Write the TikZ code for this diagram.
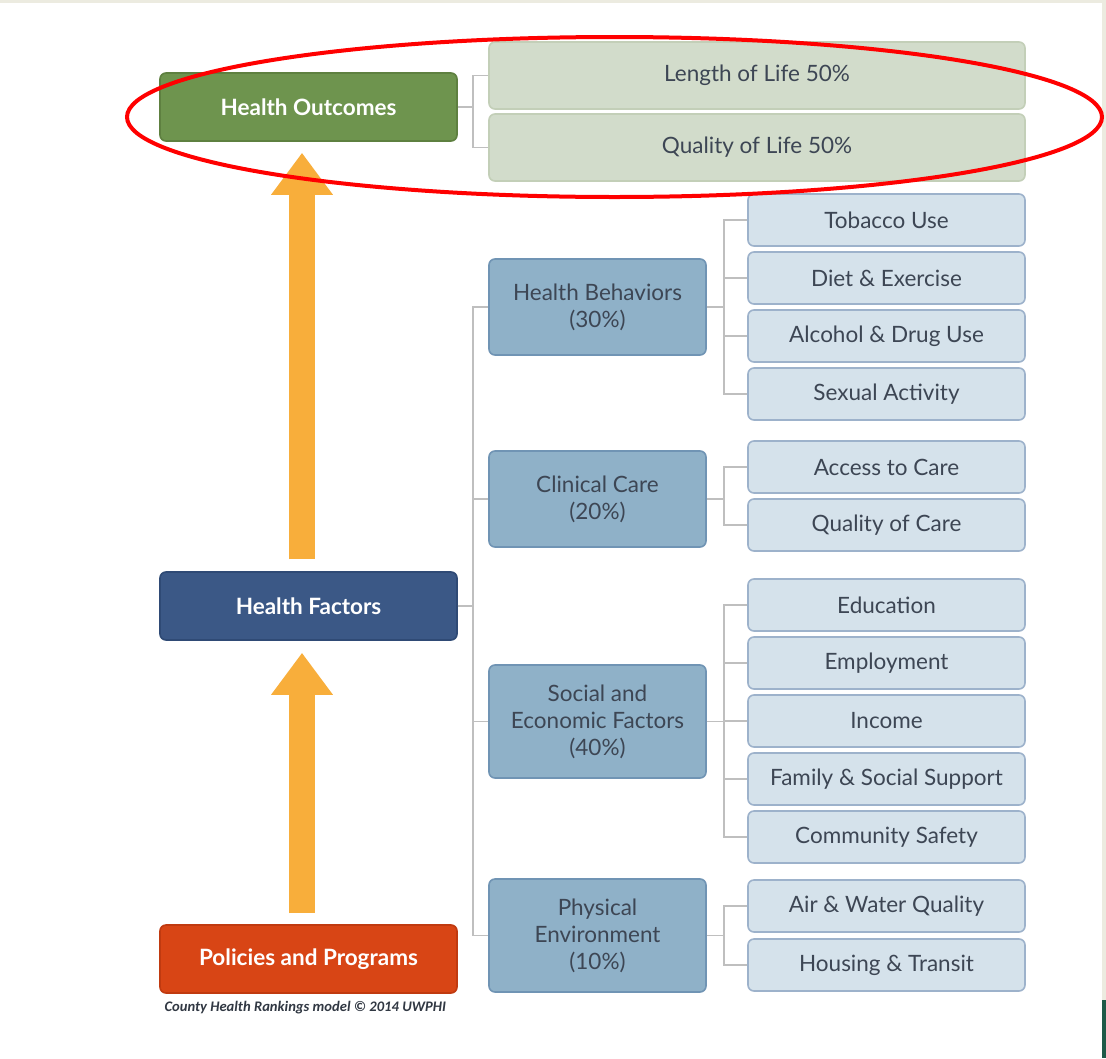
\documentclass[tikz,border=0pt]{standalone}
\usepackage{fontspec}
\setmainfont{Lato}
\newfontfamily\capfont{Carlito}
\usetikzlibrary{arrows.meta}
\definecolor{hogreen}{HTML}{6E944E}
\definecolor{hogreenb}{HTML}{5E8040}
\definecolor{lgreen}{HTML}{D2DCCB}
\definecolor{lgreenb}{HTML}{C3CFB8}
\definecolor{hfblue}{HTML}{3B5886}
\definecolor{hfblueb}{HTML}{2F4A75}
\definecolor{pporange}{HTML}{D84515}
\definecolor{pporangeb}{HTML}{C03A10}
\definecolor{midblue}{HTML}{8FB1C8}
\definecolor{midblueb}{HTML}{7094B4}
\definecolor{lblue}{HTML}{D5E2EB}
\definecolor{lblueb}{HTML}{9DB2CB}
\definecolor{conngray}{HTML}{BFBFBF}
\definecolor{arroworange}{HTML}{F8AE3B}
\definecolor{txtdark}{HTML}{3D4654}
\definecolor{framebeige}{HTML}{ECEBE0}
\definecolor{framegreen}{HTML}{1E5A48}
\begin{document}
\begin{tikzpicture}[x=1pt,y=-1pt,
  basebox/.style={rectangle, rounded corners=6pt, inner sep=0pt, line width=1.6pt, align=center},
  topbox/.style={basebox, minimum width=297pt, minimum height=68pt, text=white, font=\bfseries\fontsize{22.5}{27}\selectfont},
  outbox/.style={basebox, fill=lgreen, draw=lgreenb, minimum width=536pt, minimum height=67pt, text=txtdark, font=\fontsize{22.5}{27}\selectfont},
  midbox/.style={basebox, fill=midblue, draw=midblueb, minimum width=217pt, text=txtdark, font=\fontsize{22.5}{27}\selectfont},
  leafbox/.style={basebox, fill=lblue, draw=lblueb, minimum width=277pt, minimum height=52pt, text=txtdark, font=\fontsize{22.5}{27}\selectfont},
  conn/.style={draw=conngray, line width=1.5pt},
  bigarrow/.style={draw=arroworange, line width=26pt, -{Triangle[width=59pt,length=42pt]}}
]
\useasboundingbox (0,0) rectangle (1106,1058);
\fill[white] (0,0) rectangle (1106,1058);
% frame strips
\fill[framebeige] (0,0) rectangle (1106,3);
\fill[framebeige] (1102,0) rectangle (1106,1000);
\fill[framegreen] (1102,1000) rectangle (1106,1058);

% left column
\node[topbox, fill=hogreen, draw=hogreenb] (ho) at (308.5,107) {Health Outcomes};
\node[topbox, fill=hfblue, draw=hfblueb] (hf) at (308.5,606) {Health Factors};
\node[topbox, fill=pporange, draw=pporangeb] (pp) at (308.5,959) {Policies and Programs};
\node[anchor=west, text=txtdark!80!black, font=\capfont\bfseries\itshape\fontsize{14.6}{16}\selectfont] (cap) at (161,1008) {County Health Rankings model © 2014 UWPHI};

% outcomes
\node[outbox] (lol) at (757,75.5) {Length of Life 50\%};
\node[outbox] (qol) at (757,147.5) {Quality of Life 50\%};

% level 2
\node[midbox, minimum height=96pt] (hb) at (597.5,307) {Health Behaviors\\(30\%)};
\node[midbox, minimum height=96pt] (cc) at (597.5,499) {Clinical Care\\(20\%)};
\node[midbox, minimum height=113pt] (se) at (597.5,721.5) {Social and\\Economic Factors\\(40\%)};
\node[midbox, minimum height=113pt] (pe) at (597.5,935.5) {Physical\\Environment\\(10\%)};

% level 3
\node[leafbox] (tob) at (886.5,220) {Tobacco Use};
\node[leafbox] (die) at (886.5,278) {Diet \& Exercise};
\node[leafbox] (alc) at (886.5,336) {Alcohol \& Drug Use};
\node[leafbox] (sex) at (886.5,394) {Sexual Activity};
\node[leafbox] (acc) at (886.5,467) {Access to Care};
\node[leafbox] (qoc) at (886.5,525) {Quality of Care};
\node[leafbox] (edu) at (886.5,605) {Education};
\node[leafbox] (emp) at (886.5,663) {Employment};
\node[leafbox] (inc) at (886.5,721) {Income};
\node[leafbox] (fam) at (886.5,779) {Family \& Social Support};
\node[leafbox] (com) at (886.5,837) {Community Safety};
\node[leafbox] (air) at (886.5,906) {Air \& Water Quality};
\node[leafbox] (hou) at (886.5,965) {Housing \& Transit};

% connectors
\draw[conn] (ho.east) -- ++(15,0) |- (lol.west);
\draw[conn] (ho.east) -- ++(15,0) |- (qol.west);

\draw[conn] (hf.east) -- ++(15,0) |- (hb.west);
\draw[conn] (hf.east) -- ++(15,0) |- (cc.west);
\draw[conn] (hf.east) -- ++(15,0) |- (se.west);
\draw[conn] (hf.east) -- ++(15,0) |- (pe.west);

\foreach \t in {tob,die,alc,sex} \draw[conn] (hb.east) -- ++(17,0) |- (\t.west);
\foreach \t in {acc,qoc} \draw[conn] (cc.east) -- ++(17,0) |- (\t.west);
\foreach \t in {edu,emp,inc,fam,com} \draw[conn] (se.east) -- ++(17,0) |- (\t.west);
\foreach \t in {air,hou} \draw[conn] (pe.east) -- ++(17,0) |- (\t.west);

% big arrows
\draw[bigarrow] ([xshift=-6.5pt,yshift=12pt]hf.north) -- ([xshift=-6.5pt,yshift=-11pt]ho.south);
\draw[bigarrow] ([xshift=-6.5pt,yshift=11pt]pp.north) -- ([xshift=-6.5pt,yshift=-12pt]hf.south);

% red ellipse
\draw[red, line width=4pt] (614.5,117) ellipse [x radius=487.5, y radius=80];
\end{tikzpicture}
\end{document}
